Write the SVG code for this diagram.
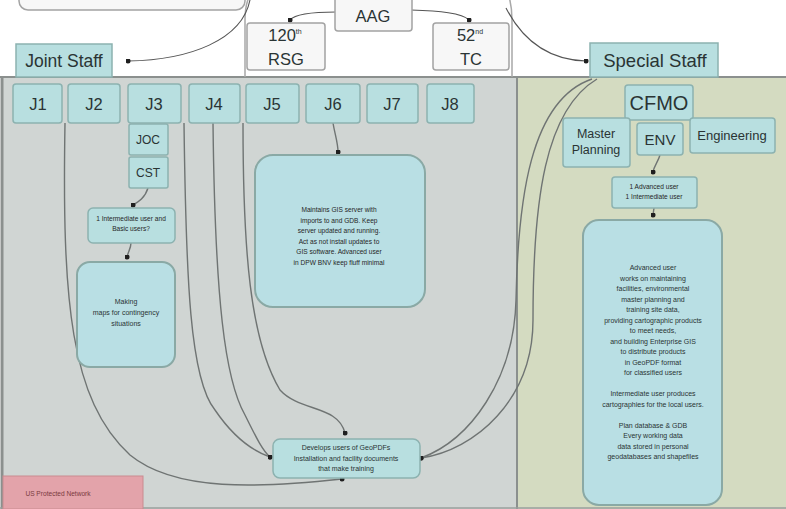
<svg xmlns="http://www.w3.org/2000/svg" width="786" height="509" viewBox="0 0 786 509">
<defs>
<style>
text{font-family:"Liberation Sans",Arial,sans-serif;fill:#2a3434;text-anchor:middle}
.teal{fill:#b8dfe0;stroke:#8cb2b0;stroke-width:1.5}
.wbox{fill:#f7f7f7;stroke:#a3a3a3;stroke-width:1.5}
.big{fill:#b9dfe4;stroke:#8aa9a5;stroke-width:2}
.lbl{font-size:16.5px}
.sm{font-size:6.6px;fill:#262626}
.conn{fill:none;stroke:#6f7473;stroke-width:1.4}
.conn2{fill:none;stroke:#555;stroke-width:1.1}
</style>
<marker id="dot" viewBox="0 0 6 6" refX="3" refY="3" markerWidth="5" markerHeight="5" markerUnits="userSpaceOnUse"><circle cx="3" cy="3" r="3" fill="#1f1f1f"/></marker>
</defs>
<rect width="786" height="509" fill="#ffffff"/>
<g id="panels">
<rect x="1" y="77" width="516" height="432" fill="#d0d5d3"/>
<rect x="517" y="77" width="269" height="432" fill="#d4dbc1"/>
<line x1="0" y1="77" x2="786" y2="77" stroke="#8b908e" stroke-width="2"/>
<line x1="2" y1="77" x2="2" y2="509" stroke="#8b908e" stroke-width="3"/>
<line x1="517" y1="77" x2="517" y2="509" stroke="#8b908e" stroke-width="2"/>
<line x1="0" y1="508" x2="786" y2="508" stroke="#9a9f9d" stroke-width="1.5"/>
</g>
<g id="container"><path d="M245,77 V20 Q245,-30 300,-30 H470 Q512,-30 512,20 V77" fill="none" stroke="#a8a8a8" stroke-width="1.5"/></g>
<g id="topbox"><rect class="wbox" x="19" y="-20" width="226" height="30" rx="9"/></g>
<g id="pink"><rect x="3" y="476" width="140" height="33" fill="#e3a3aa" stroke="#c98b90" stroke-width="1"/><text x="58" y="496" class="sm" style="fill:#7a3a40">US Protected Network</text></g>
<g id="connectors">
<path class="conn2" d="M250,0 C242,40 190,60 128,61" marker-end="url(#dot)"/>
<path class="conn2" d="M506,8 C525,45 552,60 586,61" marker-end="url(#dot)"/>
<path class="conn2" d="M336,12 C315,12 295,14 290,20" marker-end="url(#dot)"/>
<path class="conn2" d="M411,10 C440,11 462,13 469,20" marker-end="url(#dot)"/>
<path class="conn" d="M65,123 C62,300 70,400 130,455 C175,492 260,488 342,479" marker-end="url(#dot)"/>
<path class="conn" d="M184,123 C186,280 190,380 215,410 C232,435 250,450 270,457" marker-end="url(#dot)"/>
<path class="conn" d="M213,123 C215,300 225,380 245,415 C255,435 262,450 270,457" marker-end="url(#dot)"/>
<path class="conn" d="M243,123 C243,250 250,340 280,390 C300,412 338,405 345,433" marker-end="url(#dot)"/>
<path class="conn" d="M333,123 C335,135 338,143 338,152" marker-end="url(#dot)"/>
<path class="conn" d="M597,79 C545,110 533,200 533,320 C533,400 475,450 421,458" marker-end="url(#dot)"/>
<path class="conn" d="M592,79 C530,100 518,200 516,300 C514,380 470,440 421,458" marker-end="url(#dot)"/>
<path class="conn" d="M148,188 C145,198 138,202 133,205" marker-end="url(#dot)"/>
<path class="conn" d="M131,243 C131,248 128,252 127,257" marker-end="url(#dot)"/>
<path class="conn" d="M660,155 C658,162 654,166 653,172" marker-end="url(#dot)"/>
<path class="conn" d="M654,208 L653,215" marker-end="url(#dot)"/>
</g>
<g id="aag"><rect class="wbox" x="335" y="-6" width="77" height="37" rx="3"/><text x="373" y="22" class="lbl">AAG</text></g>
<g id="rsg"><rect class="wbox" x="247" y="23" width="78" height="47" rx="3"/><text x="285" y="41" class="lbl">120<tspan font-size="7" dy="-7">th</tspan></text><text x="286" y="65" class="lbl">RSG</text></g>
<g id="tc"><rect class="wbox" x="433" y="23" width="76" height="47" rx="3"/><text x="470" y="41" class="lbl">52<tspan font-size="7" dy="-7">nd</tspan></text><text x="471" y="65" class="lbl">TC</text></g>
<g id="jointstaff"><rect class="teal" x="16" y="44" width="96" height="33"/><text x="64" y="67" style="font-size:17.5px">Joint Staff</text></g>
<g id="specialstaff"><rect class="teal" x="590" y="43" width="128" height="34"/><text x="655" y="67" style="font-size:18.5px">Special Staff</text></g>
<g id="j1"><rect class="teal" x="13" y="84" width="49" height="39" rx="3"/><text x="38" y="110" class="lbl">J1</text></g>
<g id="j2"><rect class="teal" x="68" y="84" width="52" height="39" rx="3"/><text x="94" y="110" class="lbl">J2</text></g>
<g id="j3"><rect class="teal" x="128" y="84" width="53" height="39" rx="3"/><text x="154" y="110" class="lbl">J3</text></g>
<g id="j4"><rect class="teal" x="189" y="84" width="51" height="39" rx="3"/><text x="214" y="110" class="lbl">J4</text></g>
<g id="j5"><rect class="teal" x="246" y="84" width="53" height="39" rx="3"/><text x="272" y="110" class="lbl">J5</text></g>
<g id="j6"><rect class="teal" x="306" y="84" width="54" height="39" rx="3"/><text x="333" y="110" class="lbl">J6</text></g>
<g id="j7"><rect class="teal" x="367" y="84" width="51" height="39" rx="3"/><text x="392" y="110" class="lbl">J7</text></g>
<g id="j8"><rect class="teal" x="427" y="84" width="47" height="39" rx="3"/><text x="450" y="110" class="lbl">J8</text></g>
<g id="joc"><rect class="teal" x="129" y="124" width="39" height="31" rx="2"/><text x="148" y="144" style="font-size:12px">JOC</text></g>
<g id="cst"><rect class="teal" x="129" y="157" width="39" height="31" rx="2"/><text x="148" y="177" style="font-size:12px">CST</text></g>
<g id="intermediate"><rect class="teal" x="88" y="208" width="87" height="35" rx="5"/><text x="131" y="221" class="sm">1 Intermediate user and<tspan x="131" dy="10">Basic users?</tspan></text></g>
<g id="making"><rect class="big" x="77" y="262" width="98" height="105" rx="13"/><text x="126" y="304" style="font-size:7px">Making<tspan x="126" dy="11">maps for contingency</tspan><tspan x="126" dy="11">situations</tspan></text></g>
<g id="j6box"><rect class="big" x="255" y="155" width="170" height="152" rx="18"/><text x="339" y="212" class="sm">Maintains GIS server with<tspan x="339" dy="10.5">imports to and GDB.  Keep</tspan><tspan x="339" dy="10.5">server updated and running.</tspan><tspan x="339" dy="10.5">Act as not install updates to</tspan><tspan x="339" dy="10.5">GIS software.  Advanced user</tspan><tspan x="339" dy="10.5">in DPW BNV keep fluff minimal</tspan></text></g>
<g id="bottombox"><rect class="teal" x="273" y="439" width="147" height="39" rx="7"/><text x="346" y="450" style="font-size:7px">Develops users of GeoPDFs<tspan x="346" dy="10.5">Installation and facility documents</tspan><tspan x="346" dy="10.5">that make training</tspan></text></g>
<g id="cfmo"><rect class="teal" x="625" y="85" width="68" height="35" rx="3"/><text x="659" y="110" style="font-size:20px">CFMO</text></g>
<g id="masterplanning"><rect class="teal" x="563" y="118" width="67" height="49" rx="3"/><text x="596" y="138" style="font-size:12.5px">Master<tspan x="596" dy="16">Planning</tspan></text></g>
<g id="env"><rect class="teal" x="637" y="123" width="46" height="32" rx="3"/><text x="660" y="145" style="font-size:15px">ENV</text></g>
<g id="engineering"><rect class="teal" x="690" y="118" width="85" height="35" rx="3"/><text x="732" y="140" style="font-size:13px">Engineering</text></g>
<g id="advanced"><rect class="teal" x="612" y="177" width="85" height="31" rx="3"/><text x="654" y="189" class="sm">1 Advanced user<tspan x="654" dy="10">1 Intermediate user</tspan></text></g>
<g id="rightbox"><rect class="big" x="583" y="220" width="139" height="285" rx="16"/><text x="653" y="270" style="font-size:7px">Advanced user<tspan x="653" dy="10.5">works on maintaining</tspan><tspan x="653" dy="10.5">facilities, environmental</tspan><tspan x="653" dy="10.5">master planning and</tspan><tspan x="653" dy="10.5">training site data,</tspan><tspan x="653" dy="10.5">providing cartographic products</tspan><tspan x="653" dy="10.5">to meet needs,</tspan><tspan x="653" dy="10.5">and building Enterprise GIS</tspan><tspan x="653" dy="10.5">to distribute products</tspan><tspan x="653" dy="10.5">in GeoPDF format</tspan><tspan x="653" dy="10.5">for classified users</tspan><tspan x="653" dy="21">Intermediate user produces</tspan><tspan x="653" dy="10.5">cartographies for the local users.</tspan><tspan x="653" dy="21">Plan database &amp; GDB</tspan><tspan x="653" dy="10.5">Every working data</tspan><tspan x="653" dy="10.5">data stored in personal</tspan><tspan x="653" dy="10.5">geodatabases and shapefiles</tspan></text></g>
</svg>
